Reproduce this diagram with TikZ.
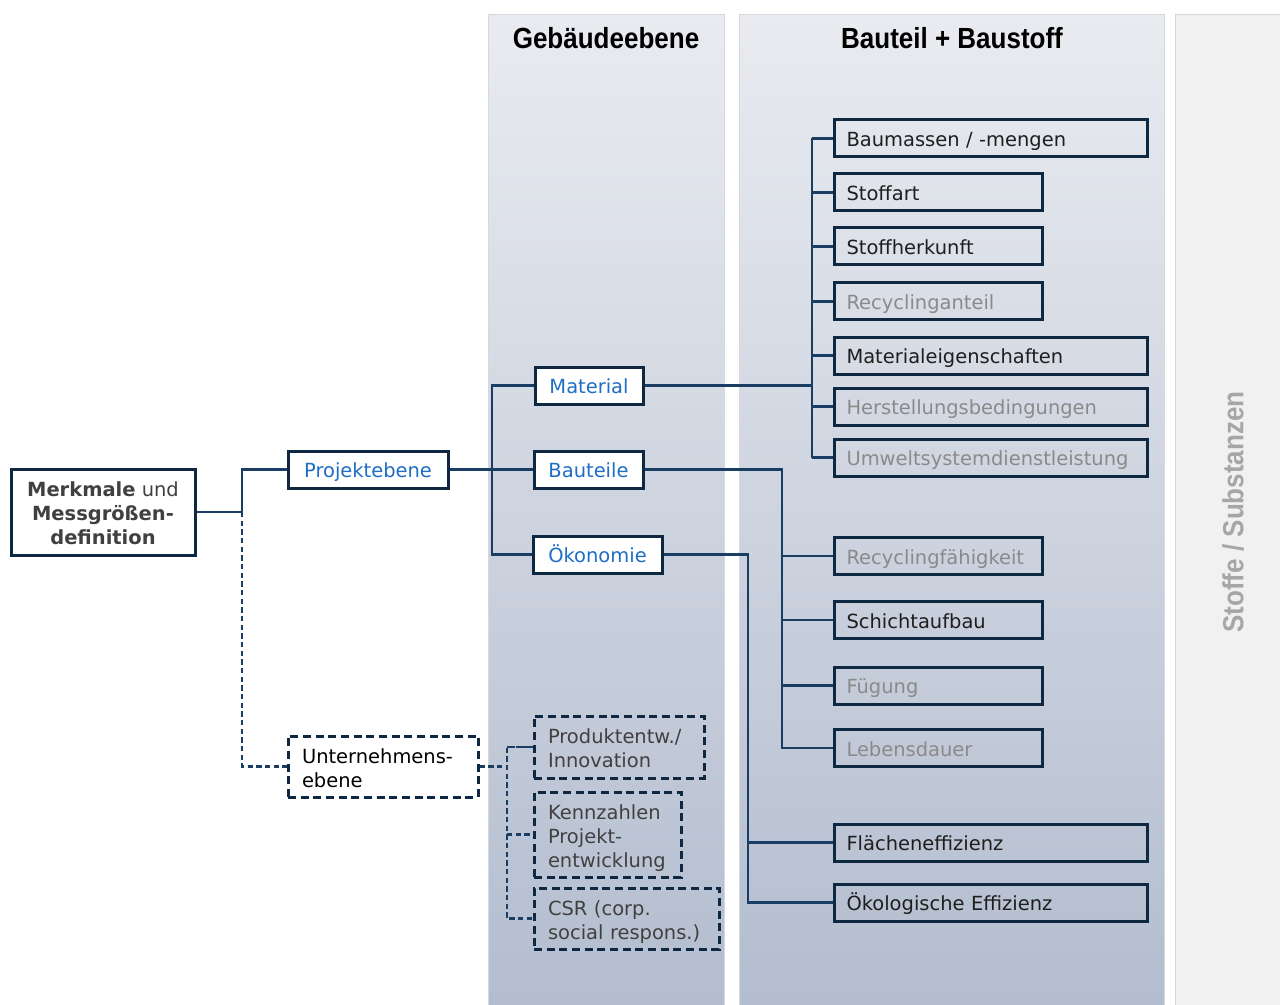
\documentclass[tikz,border=0pt]{standalone}
\usepackage{fontspec}
\setmainfont{DejaVu Sans}
\newfontfamily\hfont{Liberation Sans}
\usetikzlibrary{calc}
\definecolor{navy}{HTML}{0E2841}
\definecolor{conncol}{HTML}{1A3D63}
\definecolor{blu}{HTML}{1F6EC4}
\definecolor{dk}{HTML}{1E1E1E}
\definecolor{gr}{HTML}{8A8A8A}
\definecolor{dg}{HTML}{404040}
\definecolor{ptop}{HTML}{E9EBF0}
\definecolor{pbot}{HTML}{B3BDCF}
\definecolor{side}{HTML}{F1F1F1}
\definecolor{sidetxt}{HTML}{A6A6A6}
\definecolor{pedge}{HTML}{D6D8DD}
\newcommand{\topstrut}[1]{\rule{0pt}{#1}}
\tikzset{
  box/.style={draw=navy, line width=2.25pt, rectangle, minimum height=27.75pt, inner ysep=0pt, inner xsep=9pt},
  oneline/.style={text height=14pt, text depth=2pt},
  wbox/.style={box, oneline, text width=216.75pt, align=left, anchor=west, text=dk},
  nbox/.style={box, oneline, text width=138pt, align=left, anchor=west, text=dk},
  greytxt/.style={text=gr},
  bluebox/.style={box, oneline, fill=white, text=blu, inner xsep=0pt, align=center},
  dbox/.style={box, inner xsep=10.5pt, dash pattern=on 6pt off 3.5pt, align=left, text=dg},
  conn/.style={draw=conncol, line width=1.6pt},
  dconn/.style={conn, dash pattern=on 4pt off 2.5pt},
  hdr/.style={font=\hfont\bfseries\fontsize{19.5pt}{22pt}\selectfont, text=black}
}
\begin{document}
\begin{tikzpicture}[x=0.75pt,y=-0.75pt, font=\fontsize{14.6pt}{18pt}\selectfont]
\useasboundingbox (0,0) rectangle (1280,1005);
\fill[white] (0,0) rectangle (1280,1005);
% panels
\shade[top color=ptop, bottom color=pbot] (488,15) rectangle (724,1005);
\draw[pedge, line width=0.75pt] (488,1005) -- (488,15) -- (724,15) -- (724,1005);
\shade[top color=ptop, bottom color=pbot] (739,15) rectangle (1164,1005);
\draw[pedge, line width=0.75pt] (739,1005) -- (739,15) -- (1164,15) -- (1164,1005);
\fill[side] (1175,15) rectangle (1280,1005);
\draw[pedge, line width=0.75pt] (1175,1005) -- (1175,15) -- (1280,15);
\node[hdr] (h1) at (606,38) {\scalebox{1}[1.12]{Gebäudeebene}};
\node[hdr] (h2) at (952,38) {\scalebox{1}[1.12]{Bauteil + Baustoff}};
\node[font=\hfont\bfseries\fontsize{19.5pt}{22pt}\selectfont, text=sidetxt, rotate=90] (h3) at (1233,512) {\scalebox{1}[1.12]{Stoffe / Substanzen}};

% left nodes
\node[box, fill=white, text=dg, minimum width=138pt, minimum height=64.5pt, inner xsep=0pt, align=center] (merk) at (103,512)
  {\topstrut{12.5pt}\textbf{Merkmale} und\\\textbf{Messgrößen-}\\\textbf{definition}};
\node[bluebox, minimum width=120pt] (proj) at (368,469.5) {Projektebene};
\node[dbox, fill=white, text=black, text width=121.5pt, minimum height=45.75pt] (unt) at (383,766.5) {\topstrut{14pt}Unternehmens-\\ebene};

% Gebaeudeebene nodes
\node[bluebox, minimum width=81pt] (mat) at (589,385.5) {Material};
\node[bluebox, minimum width=81.75pt] (bau) at (588.5,469.5) {Bauteile};
\node[bluebox, minimum width=96.75pt] (oek) at (597.5,554.5) {Ökonomie};
\node[dbox, text width=106.5pt, minimum height=46.5pt] (u1) at (619,747) {\topstrut{12.5pt}Produktentw./\\Innovation};
\node[dbox, text width=89.25pt, minimum height=63.75pt] (u2) at (607.5,834.5) {\topstrut{17pt}Kennzahlen\\Projekt-\\entwicklung};
\node[dbox, text width=117.75pt, minimum height=45.75pt] (u3) at (626.5,918.5) {\topstrut{17pt}CSR (corp.\\social respons.)};

% Bauteil + Baustoff nodes
\node[wbox] (r1) at (833,138.5) {Baumassen / -mengen};
\node[nbox] (r2) at (833,192.5) {Stoffart};
\node[nbox] (r3) at (833,246.5) {Stoffherkunft};
\node[nbox, greytxt] (r4) at (833,301.5) {Recyclinganteil};
\node[wbox] (r5) at (833,355.5) {Materialeigenschaften};
\node[wbox, greytxt] (r6) at (833,406.5) {Herstellungsbedingungen};
\node[wbox, greytxt] (r7) at (833,457.5) {Umweltsystemdienstleistung};
\node[nbox, greytxt] (r8) at (833,556) {Recyclingfähigkeit};
\node[nbox] (r9) at (833,620) {Schichtaufbau};
\node[nbox, greytxt] (r10) at (833,685.5) {Fügung};
\node[nbox, greytxt] (r11) at (833,748) {Lebensdauer};
\node[wbox] (r12) at (833,842.5) {Flächeneffizienz};
\node[wbox] (r13) at (833,902.5) {Ökologische Effizienz};

% junction coordinates
\coordinate (j1) at (242,512);
\coordinate (j2) at (492,470);
\coordinate (j3) at (812,385);
\coordinate (j4) at (782,470);
\coordinate (j5) at (748,555);
\coordinate (j6) at (507,767);

% connectors
\draw[conn] (merk.east) -- (j1) |- (proj.west);
\draw[dconn] (j1) |- (unt.west);
\draw[conn] (proj.east) -- (bau.west);
\draw[conn] (mat.west) -| (j2) |- (oek.west);
\draw[conn, line width=2pt] (mat.east) -- (mat.east -| j3);
\draw[conn] (r1.west -| j3) -- (r7.west -| j3);
\foreach \r in {r1,r2,r3,r4,r5,r6,r7} \draw[conn] (\r.west -| j3) -- (\r.west);
\draw[conn] (bau.east) -| (r11.west -| j4) -- (r11.west);
\foreach \r in {r8,r9,r10} \draw[conn] (\r.west -| j4) -- (\r.west);
\draw[conn] (oek.east) -| (r13.west -| j5) -- (r13.west);
\draw[conn] (r12.west -| j5) -- (r12.west);
\draw[dconn] (unt.east) -- (unt.east -| j6);
\draw[dconn] (u1.west) -| (j6) |- (u3.west);
\draw[dconn] (u1.west -| j6) -- (u1.west);
\draw[dconn] (u2.west -| j6) -- (u2.west);
\end{tikzpicture}
\end{document}
